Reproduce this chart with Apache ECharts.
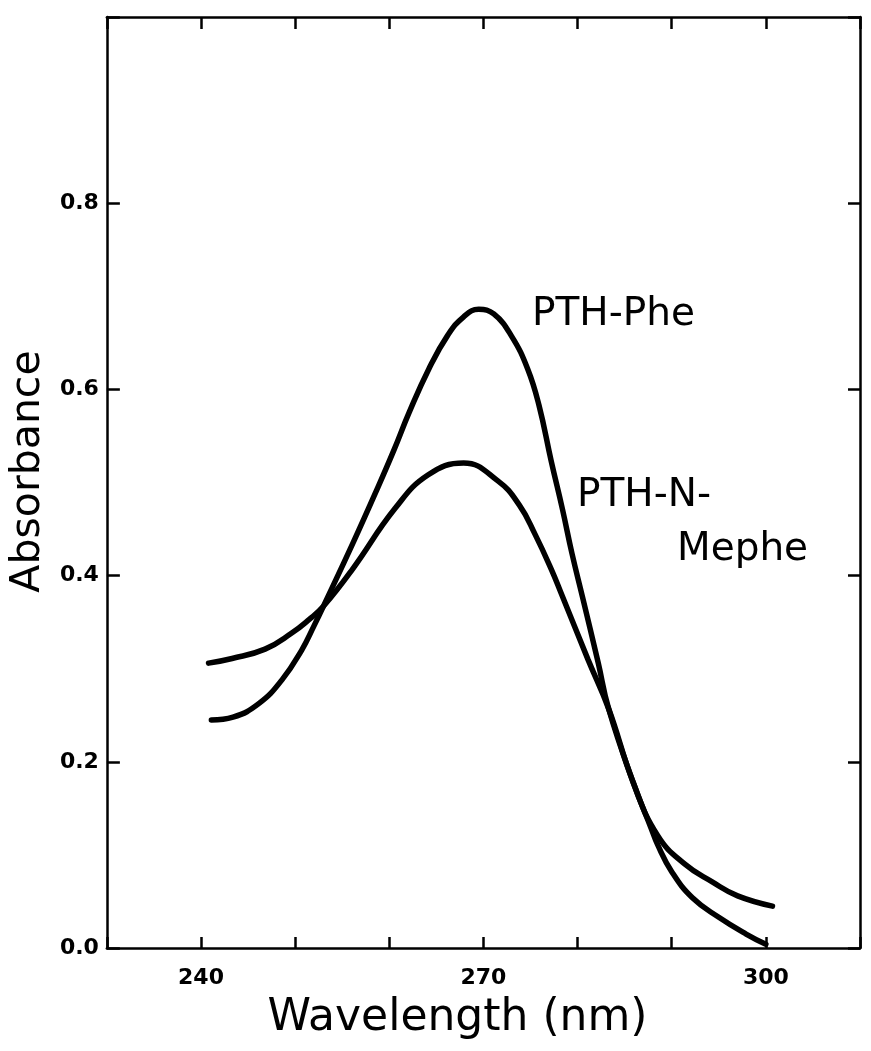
<!DOCTYPE html>
<html>
<head>
<meta charset="utf-8">
<style>
  html, body { margin: 0; padding: 0; background: #fff; }
  #main { width: 871px; height: 1051px; }
</style>
<script src="https://cdn.jsdelivr.net/npm/echarts@6/dist/echarts.min.js"></script>
</head>
<body>
<div id="main"></div>
<script>
// values
var pheNm  = [241.1, 243.4, 246.2, 248.6, 250.7, 252.0, 253.0, 256.1, 258.8, 260.5, 262.1, 264.2, 266.2, 267.9, 269.5,
              271.1, 273.0, 274.7, 275.9, 277.2, 278.4, 279.4, 280.5, 282.2, 283.3, 285.9, 287.8, 288.5, 290.0, 292.2,
              295.0, 297.9, 300.0];
var pheAbs = [0.245, 0.248, 0.263, 0.288, 0.320, 0.346, 0.367, 0.434, 0.495, 0.535, 0.575, 0.622, 0.658, 0.678, 0.686,
              0.681, 0.657, 0.622, 0.583, 0.523, 0.471, 0.424, 0.378, 0.306, 0.257, 0.178, 0.129, 0.111, 0.082, 0.054,
              0.033, 0.015, 0.004];
var mepheNm  = [240.8, 243.3, 246.8, 249.6, 251.5, 253.0, 256.1, 260.6, 264.1, 267.9, 271.5, 273.8, 275.5, 277.2, 278.3,
                281.1, 283.3, 285.9, 288.5, 291.4, 294.3, 297.0, 300.7];
var mepheAbs = [0.306, 0.311, 0.321, 0.338, 0.353, 0.367, 0.407, 0.472, 0.508, 0.521, 0.502, 0.476, 0.444, 0.407, 0.380,
                0.310, 0.257, 0.178, 0.121, 0.090, 0.071, 0.056, 0.045];
var xTickLabels = [240, 270, 300];
var yTickLabels = ['0.0', '0.2', '0.4', '0.6', '0.8'];

function pairs(xs, ys) {
    return xs.map(function (x, i) { return [x, ys[i]]; });
}

var chart = echarts.init(document.getElementById('main'));
var font = 'DejaVu Sans';
var ink = '#000';
var frameLine = { show: true, onZero: false, lineStyle: { color: ink, width: 2.5 } };
function ticks(len) {
    return { show: true, inside: true, length: len, lineStyle: { color: ink, width: 2.5 } };
}
var tickFont = { color: ink, fontFamily: font, fontWeight: 'bold', fontSize: 22 };
var labelFont = '39px "DejaVu Sans"';

var option = {
    backgroundColor: '#fff',
    animation: false,
    grid: { left: 104, top: 17, width: 756, height: 931 },
    xAxis: [
        {
            type: 'value', min: 230, max: 310, interval: 10, position: 'bottom',
            name: 'Wavelength (nm)', nameLocation: 'middle', nameGap: 49,
            nameTextStyle: { color: ink, fontFamily: font, fontSize: 44, padding: [0, 52, 0, 0] },
            axisLine: frameLine, axisTick: ticks(11), splitLine: { show: false },
            axisLabel: Object.assign({ margin: 19, formatter: function (v) {
                return xTickLabels.indexOf(v) >= 0 ? String(v) : '';
            } }, tickFont)
        },
        {
            type: 'value', min: 230, max: 310, interval: 10, position: 'top',
            axisLine: frameLine, axisTick: ticks(12), splitLine: { show: false }, axisLabel: { show: false }
        }
    ],
    yAxis: [
        {
            type: 'value', min: 0, max: 1, interval: 0.2, position: 'left',
            name: 'Absorbance', nameLocation: 'middle', nameGap: 50, nameRotate: 90,
            nameTextStyle: { color: ink, fontFamily: font, fontSize: 41, padding: [0, 0, 0, 22] },
            axisLine: frameLine, axisTick: ticks(13), splitLine: { show: false },
            axisLabel: Object.assign({ margin: 8, formatter: function (v) {
                var s = v.toFixed(1);
                return yTickLabels.indexOf(s) >= 0 ? s : '';
            } }, tickFont)
        },
        {
            type: 'value', min: 0, max: 1, interval: 0.2, position: 'right',
            axisLine: frameLine, axisTick: ticks(12), splitLine: { show: false }, axisLabel: { show: false }
        }
    ],
    series: [
        {
            name: 'PTH-Phe', type: 'line', data: pairs(pheNm, pheAbs),
            smooth: 0.45, symbol: 'none', lineStyle: { color: ink, width: 5.5, cap: 'round' }
        },
        {
            name: 'PTH-N-Mephe', type: 'line', data: pairs(mepheNm, mepheAbs),
            smooth: 0.45, symbol: 'none', lineStyle: { color: ink, width: 5.5, cap: 'round' }
        }
    ],
    graphic: [
        { type: 'text', left: 532, top: 295, style: { text: 'PTH-Phe', fill: ink, font: labelFont } },
        { type: 'text', left: 577, top: 476, style: { text: 'PTH-N-', fill: ink, font: labelFont } },
        { type: 'text', left: 677, top: 530, style: { text: 'Mephe', fill: ink, font: labelFont } }
    ]
};

chart.setOption(option);
</script>
</body>
</html>
